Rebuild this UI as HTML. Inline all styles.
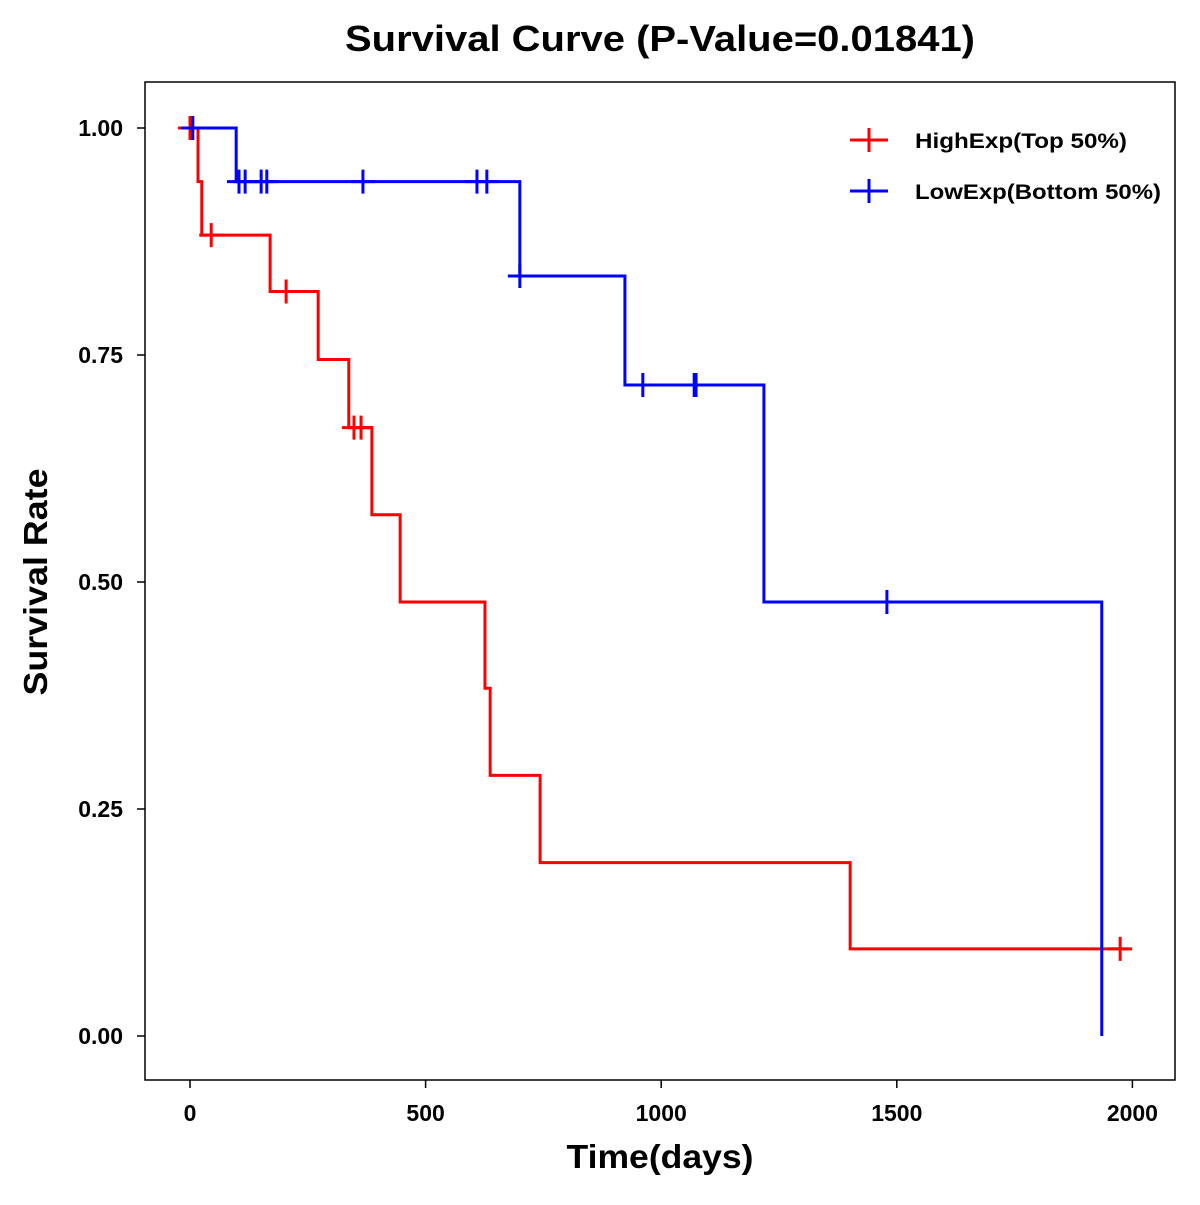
<!DOCTYPE html>
<html><head><meta charset="utf-8"><style>
body{margin:0;background:#fff}
svg text{font-family:"Liberation Sans",Arial,sans-serif;font-weight:bold}
</style></head><body>
<svg id="c" width="1200" height="1200" viewBox="0 0 1200 1200">
<rect width="1200" height="1200" fill="#fff"/>
<text x="660" y="51" font-size="36" text-anchor="middle" textLength="630" lengthAdjust="spacingAndGlyphs">Survival Curve (P-Value=0.01841)</text>
<rect x="145" y="82" width="1030" height="998" fill="none" stroke="#000" stroke-width="1.5"/>
<g id="axes"></g>
<g id="series"></g>
<text x="660" y="1168" font-size="33" text-anchor="middle" textLength="187" lengthAdjust="spacingAndGlyphs">Time(days)</text>
<text transform="translate(47,582) rotate(-90)" font-size="33" text-anchor="middle" textLength="227" lengthAdjust="spacingAndGlyphs">Survival Rate</text>
<g>
<g>
<line x1="850" y1="140" x2="888" y2="140" stroke="#f00" stroke-width="3"/><line x1="869" y1="128" x2="869" y2="152" stroke="#f00" stroke-width="3"/>
<text x="915" y="148" font-size="21" textLength="212" lengthAdjust="spacingAndGlyphs">HighExp(Top 50%)</text></g>
<g>
<line x1="850" y1="191" x2="888" y2="191" stroke="#00f" stroke-width="3"/><line x1="869" y1="179" x2="869" y2="203" stroke="#00f" stroke-width="3"/>
<text x="915" y="199" font-size="21" textLength="246" lengthAdjust="spacingAndGlyphs">LowExp(Bottom 50%)</text></g>
</g>
</svg>
<script>
const xTicks=[0,500,1000,1500,2000];
const yTicks=[0,0.25,0.5,0.75,1];
const yTickLabels=["0.00","0.25","0.50","0.75","1.00"];
const highTimes=[17,25,170,272,337,386,446,626,637,743,1401];
const highSurv=[0.941,0.882,0.82,0.745,0.67,0.574,0.478,0.383,0.287,0.191,0.096];
const highEnd=1990;
const highCensor=[0,45,204,348,363,1974];
const lowTimes=[98,700,923,1218,1935];
const lowSurv=[0.941,0.837,0.717,0.478,0.0];
const lowEnd=1935;
const lowCensor=[6,104,117,151,163,367,609,630,700,961,1070,1074,1479];
function X(d){return 190+d*0.4712;}
function Y(s){return 1036-s*908;}
const NS="http://www.w3.org/2000/svg";
function mk(t,a,p){const e=document.createElementNS(NS,t);for(const k in a)e.setAttribute(k,a[k]);p.appendChild(e);return e;}
const ax=document.getElementById('axes');
xTicks.forEach(v=>{
 const l=mk('line',{x1:X(v),x2:X(v),y1:1080,y2:1088,stroke:'#000','stroke-width':1.5},ax);
 
 
 const t=mk('text',{x:X(v),y:1121,'font-size':23,'text-anchor':'middle'},ax);t.textContent=v;
 
 
});
yTicks.forEach((v,i)=>{
 const l=mk('line',{x1:137,x2:145,y1:Y(v),y2:Y(v),stroke:'#000','stroke-width':1.5},ax);
 
 
 const t=mk('text',{x:123,y:Y(v)+8,'font-size':23,'text-anchor':'end'},ax);t.textContent=yTickLabels[i];
 
 
});
const sg=document.getElementById('series');
function survAt(times,surv,d){let s=1;for(let i=0;i<times.length;i++){if(times[i]<=d)s=surv[i];}return s;}
function draw(times,surv,end,cens,col,name){
 const g=mk('g',{},sg);
 
 
 let d='M'+X(0)+','+Y(1);
 times.forEach((t,i)=>{d+=' H'+X(t)+' V'+Y(surv[i]);});
 d+=' H'+X(end);
 const p=mk('path',{d:d,fill:'none',stroke:col,'stroke-width':3},g);
 
 
 cens.forEach(c=>{
  const y=Y(survAt(times,surv,c)),x=X(c);
  const m=mk('path',{d:`M${x-12},${y} H${x+12} M${x},${y-12} V${y+12}`,stroke:col,'stroke-width':3,fill:'none'},g);
  
  
 });
}
draw(highTimes,highSurv,highEnd,highCensor,'#f00','high-exp-series');
draw(lowTimes,lowSurv,lowEnd,lowCensor,'#00f','low-exp-series');
</script>
</body></html>
